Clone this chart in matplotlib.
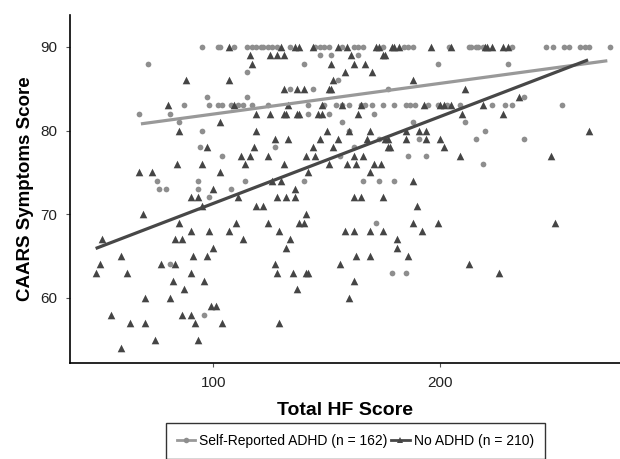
import numpy as np
import matplotlib
matplotlib.use("Agg")
import matplotlib.pyplot as plt
from matplotlib.lines import Line2D

plt.rcParams["font.family"] = ["Liberation Sans", "DejaVu Sans"]

# ---------- data (one line per CAARS row) ----------
adhd_hf = [
    95, 102, 103, 109, 115, 117, 119, 121, 122, 124, 126, 128, 134, 145, 147, 149, 151, 157, 162, 164,
    166, 175, 184, 186, 188, 204, 213, 214, 216, 217, 219, 232, 247, 250, 255, 257, 262, 264, 266, 275,
    147, 152, 164,
    71, 140, 199, 230,
    115,
    155,
    134, 144, 177,
    97, 115, 237,
    87, 98, 102, 104, 108, 111, 113, 117, 124, 142, 149, 154, 157, 160, 165,
    167, 170, 175, 180, 185, 187, 189, 195, 199, 203, 209, 223, 229, 232, 254,
    67, 81, 142, 151, 171,
    85, 157, 188, 211,
    95, 160, 220,
    173, 191, 216, 237,
    94, 127, 162,
    104, 156, 186, 194,
    219,
    75, 93, 114, 140, 166, 173, 180,
    76, 79, 93, 108,
    98,
    172,
    81,
    179, 185,
    96,
]
adhd_caars = [
    90, 90, 90, 90, 90, 90, 90, 90, 90, 90, 90, 90, 90, 90, 90, 90, 90, 90, 90, 90,
    90, 90, 90, 90, 90, 90, 90, 90, 90, 90, 90, 90, 90, 90, 90, 90, 90, 90, 90, 90,
    89, 89, 89,
    88, 88, 88, 88,
    87,
    86,
    85, 85, 85,
    84, 84, 84,
    83, 83, 83, 83, 83, 83, 83, 83, 83, 83, 83, 83, 83, 83, 83,
    83, 83, 83, 83, 83, 83, 83, 83, 83, 83, 83, 83, 83, 83, 83,
    82, 82, 82, 82, 82,
    81, 81, 81, 81,
    80, 80, 80,
    79, 79, 79, 79,
    78, 78, 78,
    77, 77, 77, 77,
    76,
    74, 74, 74, 74, 74, 74, 74,
    73, 73, 73, 73,
    72,
    69,
    64,
    63, 63,
    58,
]

no_hf = [
    107, 130, 136, 138, 144, 155, 159, 172, 173, 179, 180, 182, 196, 205, 220, 221, 223, 228, 230,
    116, 125, 128, 131, 161, 175, 176,
    117, 152, 162, 167,
    158, 170,
    88, 107, 153, 188,
    131, 137, 140, 151, 152, 211,
    235,
    80, 109, 133, 148, 157, 165, 193, 200, 202, 205, 219,
    119, 125, 131, 132, 137, 138, 146, 148, 164, 210, 228,
    103,
    85, 119, 150, 160, 169, 185, 191, 194, 266,
    127, 133, 147, 155, 168, 176, 177, 185, 194, 200,
    97, 118, 144, 153, 177, 178, 202,
    112, 116, 124, 141, 145, 162, 166, 209, 249,
    84, 95, 114, 131, 151, 159, 163, 171, 174,
    67, 73, 103, 142, 169,
    126, 130, 188,
    100, 136,
    90, 93, 111, 128, 132, 136, 162, 165, 175,
    95, 119, 122, 190,
    69, 141,
    85, 110, 124, 138, 140, 188, 199, 251,
    90, 98, 107, 129, 158, 162, 169, 175, 192,
    51, 83, 86, 113, 134, 181,
    100, 132, 181,
    59, 91, 97, 163, 169, 186,
    50, 77, 83, 127, 156, 213,
    48, 62, 90, 128, 135, 141, 142, 226,
    82, 96, 162,
    87, 137,
    70, 81, 160,
    99, 101,
    55, 86, 90,
    63, 70, 92, 104, 129,
    74, 93,
    59,
]
no_caars = [
    90, 90, 90, 90, 90, 90, 90, 90, 90, 90, 90, 90, 90, 90, 90, 90, 90, 90, 90,
    89, 89, 89, 89, 89, 89, 89,
    88, 88, 88, 88,
    87, 87,
    86, 86, 86, 86,
    85, 85, 85, 85, 85, 85,
    84,
    83, 83, 83, 83, 83, 83, 83, 83, 83, 83, 83,
    82, 82, 82, 82, 82, 82, 82, 82, 82, 82, 82,
    81,
    80, 80, 80, 80, 80, 80, 80, 80, 80,
    79, 79, 79, 79, 79, 79, 79, 79, 79, 79,
    78, 78, 78, 78, 78, 78, 78,
    77, 77, 77, 77, 77, 77, 77, 77, 77,
    76, 76, 76, 76, 76, 76, 76, 76, 76,
    75, 75, 75, 75, 75,
    74, 74, 74,
    73, 73,
    72, 72, 72, 72, 72, 72, 72, 72, 72,
    71, 71, 71, 71,
    70, 70,
    69, 69, 69, 69, 69, 69, 69, 69,
    68, 68, 68, 68, 68, 68, 68, 68, 68,
    67, 67, 67, 67, 67, 67,
    66, 66, 66,
    65, 65, 65, 65, 65, 65,
    64, 64, 64, 64, 64, 64,
    63, 63, 63, 63, 63, 63, 63, 63,
    62, 62, 62,
    61, 61,
    60, 60, 60,
    59, 59,
    58, 58, 58,
    57, 57, 57, 57, 57,
    55, 55,
    54,
]

# linear-fit lines as drawn in the chart (many points overlap, so read the ends off the picture)
adhd_fit_hf = [68, 274]
adhd_fit_caars = [80.8, 88.35]
no_fit_hf = [48, 265.5]
no_fit_caars = [65.9, 88.45]

labels = ["Self-Reported ADHD (n = 162)", "No ADHD (n = 210)"]
GREY, DARK = "#8e8e8e", "#454545"

fig = plt.figure(figsize=(6.2, 4.59), dpi=100)
ax = fig.add_axes([0.113, 0.209, 0.887, 0.758])

ax.scatter(adhd_hf, adhd_caars, s=17, marker="o", color=GREY, linewidths=0, zorder=2)
ax.scatter(no_hf, no_caars, s=30, marker="^", color=DARK, linewidths=0, zorder=2)

ax.plot(adhd_fit_hf, adhd_fit_caars, color="#999999", lw=2.3, zorder=3, solid_capstyle="butt")
ax.plot(no_fit_hf, no_fit_caars, color="#474747", lw=2.3, zorder=3, solid_capstyle="butt")

ax.set_xlim(36.7, 279.6)
ax.set_ylim(52.2, 93.8)
ax.set_xticks([100, 200])
ax.set_yticks([60, 70, 80, 90])
for s in ["top", "right"]:
    ax.spines[s].set_visible(False)
for s in ["left", "bottom"]:
    ax.spines[s].set_linewidth(1.2)
ax.tick_params(length=3, width=0.8, color="#555555", labelsize=11, labelcolor="#222222", pad=6)

ax.set_xlabel("Total HF Score", fontsize=14, fontweight="bold", labelpad=9)
ax.set_ylabel("CAARS Symptoms Score", fontsize=13.5, fontweight="bold", labelpad=5)

handles = [
    Line2D([], [], color="#999999", lw=2, marker="o", markersize=4, markerfacecolor=GREY, markeredgewidth=0),
    Line2D([], [], color="#474747", lw=2, marker="^", markersize=5, markerfacecolor=DARK, markeredgewidth=0),
]
leg = fig.legend(handles, labels, loc="upper center", bbox_to_anchor=(0.573, 0.094), ncol=2,
                 fontsize=10, frameon=True, fancybox=False, handlelength=1.3, handletextpad=0.3,
                 columnspacing=0.3, borderpad=0.8)
leg.get_frame().set_edgecolor("black")
leg.get_frame().set_linewidth(1.0)

fig.savefig("out.png", dpi=100)
